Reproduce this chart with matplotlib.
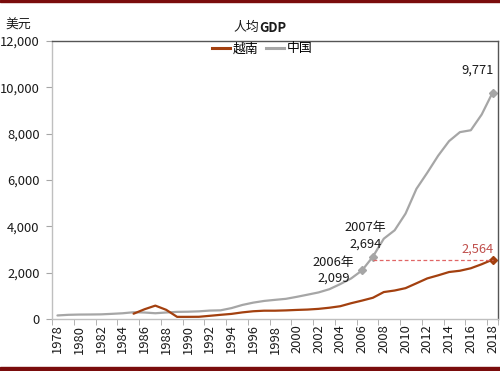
import matplotlib
matplotlib.use("Agg")
import matplotlib.pyplot as plt
from matplotlib.lines import Line2D
import numpy as np

plt.rcParams['font.family'] = ['Noto Sans CJK SC', 'DejaVu Sans']

years = list(range(1978, 2019))
china = [156, 183, 194, 197, 203, 225, 250, 294, 282, 251, 283, 310, 317, 333, 366,
         377, 473, 609, 709, 782, 829, 873, 959, 1053, 1149, 1289, 1509, 1753, 2099,
         2694, 3468, 3832, 4550, 5618, 6317, 7051, 7679, 8067, 8148, 8827, 9771]
vn_years = list(range(1985, 2019))
vietnam = [231, 422, 580, 398, 95, 95, 98, 140, 183, 223, 288, 337, 361, 361, 374,
           394, 410, 440, 489, 554, 684, 797, 919, 1165, 1232, 1334, 1543, 1755, 1887,
           2030, 2085, 2192, 2366, 2564]
yticks = [0, 2000, 4000, 6000, 8000, 10000, 12000]
ytick_labels = ['0', '2,000', '4,000', '6,000', '8,000', '10,000', '12,000']
xtick_years = list(range(1978, 2019, 2))

vn_color = '#A3400F'
cn_color = '#A6A6A6'
red_label = '#C0504D'
txt = '#1A1A1A'
fs = 9.3

fig = plt.figure(figsize=(5.0, 3.71), dpi=100)
ax = fig.add_axes([0.104, 0.140, 0.892, 0.7495])

ax.plot(years, china, color=cn_color, lw=1.6, solid_capstyle='round')
ax.plot(vn_years, vietnam, color=vn_color, lw=1.6, solid_capstyle='round')

for yr in (2006, 2007, 2018):
    ax.plot(yr, china[years.index(yr)], marker='D', ms=4, color=cn_color)
ax.plot(2018, vietnam[-1], marker='D', ms=4, color=vn_color)

ax.plot([2007, 2018], [vietnam[-1], vietnam[-1]], ls=(0, (3, 2)), color='#E06666', lw=0.9)

ax.set_xlim(1977.5, 2018.5)
ax.set_ylim(0, 12000)
ax.set_yticks(yticks)
ax.set_yticklabels(ytick_labels, fontsize=fs, color=txt)
ax.set_xticks(xtick_years)
ax.set_xticklabels([str(y) for y in xtick_years], rotation=90, fontsize=fs, color=txt)
ax.set_xticks([y - 0.5 for y in xtick_years] + [2018.5], minor=True)
ax.tick_params(axis='x', which='major', length=0, pad=4)
ax.tick_params(axis='x', which='minor', length=4, color='#A6A6A6', direction='out')
ax.tick_params(axis='y', length=4, color='#A6A6A6', direction='out', pad=5)

for s in ('left', 'bottom'):
    ax.spines[s].set_color('#BFBFBF')
    ax.spines[s].set_linewidth(1.0)
for s in ('top', 'right'):
    ax.spines[s].set_color('#555555')
    ax.spines[s].set_linewidth(1.0)

ax.text(2016.6, 10450, '9,771', fontsize=fs, ha='center', va='bottom', color=txt)
ax.text(2016.6, 2750, '2,564', fontsize=fs, ha='center', va='bottom', color=red_label)
ax.text(2006.3, 3950, '2007年', fontsize=fs, ha='center', va='center', color=txt)
ax.text(2006.3, 3250, '2,694', fontsize=fs, ha='center', va='center', color=txt)
ax.text(2003.4, 2450, '2006年', fontsize=fs, ha='center', va='center', color=txt)
ax.text(2003.4, 1750, '2,099', fontsize=fs, ha='center', va='center', color=txt)

fig.text(0.518, 0.925, '人均', fontsize=fs, ha='right', va='center', color=txt)
fig.text(0.518, 0.925, 'GDP', fontsize=fs, ha='left', va='center', color=txt, fontweight='bold')
fig.text(0.037, 0.932, '美元', fontsize=fs, ha='center', va='center', color=txt)

handles = [Line2D([], [], color=vn_color, lw=2.2), Line2D([], [], color=cn_color, lw=2.2)]
leg = fig.legend(handles, ['越南', '中国'], loc='center', bbox_to_anchor=(0.525, 0.868),
                 ncol=2, frameon=False, fontsize=fs, handlelength=1.4, handletextpad=0.2,
                 columnspacing=0.6, borderaxespad=0)

fig.patches.append(plt.Rectangle((0, 0.994), 1, 0.006, transform=fig.transFigure,
                                 color='#7A0C0C', zorder=10))
fig.patches.append(plt.Rectangle((0, 0), 1, 0.011, transform=fig.transFigure,
                                 color='#7A0C0C', zorder=10))

fig.savefig('out.png', dpi=100)
